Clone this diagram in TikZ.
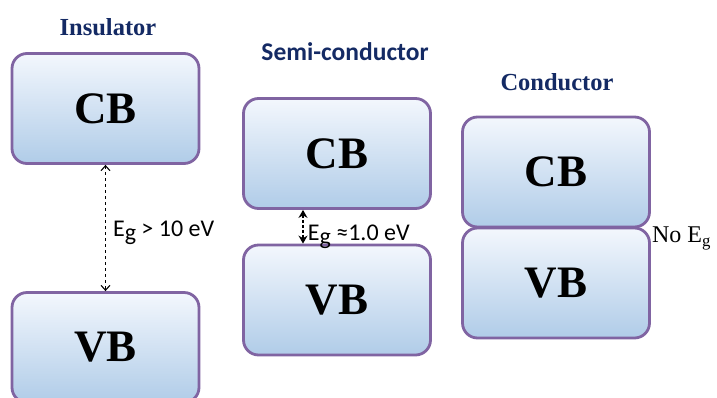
\documentclass[tikz,border=0pt]{standalone}
\usepackage{fontspec}
\setmainfont{Liberation Serif}
\newfontfamily\calibrifont{Carlito}
\usetikzlibrary{arrows.meta, positioning}
\definecolor{bandedge}{RGB}{128, 100, 162}
\definecolor{bandtop}{RGB}{243, 247, 253}
\definecolor{bandbot}{RGB}{176, 204, 232}
\definecolor{titleblue}{RGB}{20, 42, 100}
\tikzset{
  band/.style={draw=bandedge, line width=2.8pt, rounded corners=15pt,
    top color=bandtop, bottom color=bandbot, minimum width=187pt,
    minimum height=110pt, inner sep=0pt, font=\fontsize{45}{45}\selectfont\bfseries},
  title/.style={text=titleblue, font=\fontsize{24.5}{24.5}\selectfont\bfseries},
  gaplabel/.style={inner sep=1pt, font=\calibrifont\fontsize{24}{24}\selectfont},
}
\newcommand{\Eg}{E\raisebox{-0.35ex}{g}}

\begin{document}
\begin{tikzpicture}[x=1pt, y=-1pt]
  \useasboundingbox (0,0) rectangle (717,397);
  \clip (0,0) rectangle (717,397);
  % Insulator
  \node[title] (ins) at (108, 27) {Insulator};
  \node[band] (iCB) at (105.5, 108.5) {CB};
  \node[band] (iVB) at (105.5, 347.5) {VB};
  % Semi-conductor
  \node[title, font=\calibrifont\fontsize{25.5}{25.5}\selectfont\bfseries] (semi) at (345, 52) {Semi-conductor};
  \node[band] (sCB) at (337, 153.5) {CB};
  \node[band] (sVB) at (337, 300) {VB};
  % Conductor
  \node[title] (con) at (557, 82) {Conductor};
  \node[band] (cCB) at (556, 172) {CB};
  \node[band] (cVB) at (556, 283) {VB};
  % Band gaps
  \draw[{Straight Barb[length=5pt, width=9pt]}-{Straight Barb[length=5pt, width=9pt]}, dashed, line width=1.1pt]
    (iCB.south) -- (iVB.north) node[midway, right=6pt, yshift=-5pt, gaplabel] (iEg) {\Eg{} > 10 eV};
  \draw[{Stealth[length=8pt, width=9pt]}-{Stealth[length=8pt, width=9pt]}, line width=1.8pt, dash pattern=on 3pt off 2pt]
    ([xshift=-34pt]sCB.south) -- ([xshift=-34pt]sVB.north) node[midway, right=3pt, yshift=-10pt, gaplabel] (sEg) {\Eg{} ≈1.0 eV};
  \node[anchor=west, inner sep=1pt, font=\fontsize{24}{24}\selectfont] (noEg) at ([yshift=-10pt]cCB.south east) {No E\textsubscript{g}};
\end{tikzpicture}
\end{document}
